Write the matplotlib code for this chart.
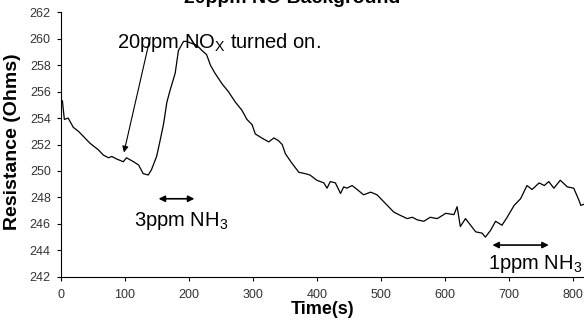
import matplotlib
matplotlib.use("Agg")
import matplotlib.pyplot as plt

plt.rcParams['font.family'] = ['Liberation Sans', 'DejaVu Sans']

# resistance trace
time_s = [0, 3, 6, 12, 20, 28, 36, 46, 59, 67, 75, 80, 88, 98, 103, 114, 122, 129,
          137, 142, 150, 155, 161, 166, 171, 179, 184, 192, 197, 202, 213, 221, 228,
          234, 241, 252, 262, 273, 283, 291, 299, 304, 314, 325, 333, 340, 346, 351,
          361, 372, 382, 389, 392, 400, 411, 416, 421, 429, 437, 442, 447, 455, 463,
          473, 484, 494, 502, 512, 520, 528, 541, 549, 557, 567, 577, 588, 598, 601,
          614, 619, 624, 632, 640, 648, 658, 663, 671, 679, 689, 697, 708, 718, 728,
          736, 747, 755, 762, 770, 780, 791, 801, 809, 812, 818]
resistance = [255.4, 255.3, 253.9, 254.0, 253.3, 253.0, 252.6, 252.1, 251.6, 251.2,
              251.0, 251.1, 250.9, 250.7, 251.0, 250.7, 250.45, 249.8, 249.7, 250.1,
              251.1, 252.2, 253.6, 255.2, 256.1, 257.4, 259.1, 259.8, 259.8, 259.7,
              259.5, 259.1, 258.8, 258.0, 257.4, 256.6, 256.0, 255.2, 254.6, 253.9,
              253.5, 252.8, 252.5, 252.2, 252.5, 252.3, 252.0, 251.3, 250.6, 249.9,
              249.8, 249.7, 249.6, 249.3, 249.1, 248.7, 249.2, 249.1, 248.3, 248.8,
              248.7, 248.9, 248.6, 248.2, 248.4, 248.2, 247.8, 247.3, 246.9, 246.7,
              246.4, 246.5, 246.3, 246.2, 246.5, 246.4, 246.7, 246.8, 246.7, 247.3,
              245.8, 246.4, 245.9, 245.4, 245.3, 245.0, 245.5, 246.2, 245.9, 246.5,
              247.4, 247.9, 248.9, 248.6, 249.1, 248.9, 249.2, 248.7, 249.3, 248.8,
              248.7, 247.8, 247.4, 247.5]

x_ticks = [0, 100, 200, 300, 400, 500, 600, 700, 800]
y_ticks = [242, 244, 246, 248, 250, 252, 254, 256, 258, 260, 262]

fig = plt.figure(figsize=(5.84, 3.2), dpi=100)
ax = fig.add_axes([0.1036, 0.135, 0.8964, 0.8266])

ax.plot(time_s, resistance, color='black', linewidth=0.9)

ax.set_xlim(0, 817)
ax.set_ylim(242, 262)
ax.set_xticks(x_ticks)
ax.set_yticks(y_ticks)
ax.spines['top'].set_visible(False)
ax.spines['right'].set_visible(False)
ax.tick_params(axis='x', direction='out', length=3, pad=6, labelsize=9, labelcolor='#333333')
ax.tick_params(axis='y', direction='out', length=3, pad=4, labelsize=9, labelcolor='#333333')

ax.set_xlabel('Time(s)', fontsize=13, fontweight='bold', labelpad=0)
ax.set_ylabel('Resistance (Ohms)', fontsize=14, fontweight='bold')
ax.yaxis.set_label_coords(-0.075, 0.51)

# title sits partly above the top edge, as in the reference
fig.text(0.5, 0.99, '20ppm NO Background', ha='center', va='baseline',
         fontsize=14, fontweight='bold')

# annotations
ax.text(88, 259.7, '20ppm NO$_\\mathregular{X}$ turned on.', fontsize=14.5, va='center')
ax.annotate('', xy=(99, 251.4), xytext=(140, 260.1),
            arrowprops=dict(arrowstyle='-|>', color='black', lw=0.8,
                            mutation_scale=9, shrinkA=0, shrinkB=0))

ax.annotate('', xy=(153, 247.9), xytext=(209, 247.9),
            arrowprops=dict(arrowstyle='<|-|>', color='black', lw=1.2,
                            mutation_scale=9, shrinkA=0, shrinkB=0))
ax.text(115, 246.2, '3ppm NH$_\\mathregular{3}$', fontsize=14.5, va='center')

ax.annotate('', xy=(674, 244.4), xytext=(762, 244.4),
            arrowprops=dict(arrowstyle='<|-|>', color='black', lw=1.2,
                            mutation_scale=9, shrinkA=0, shrinkB=0))
ax.text(667, 243.0, '1ppm NH$_\\mathregular{3}$', fontsize=14.5, va='center', clip_on=False)

fig.savefig('out.png', dpi=100)
